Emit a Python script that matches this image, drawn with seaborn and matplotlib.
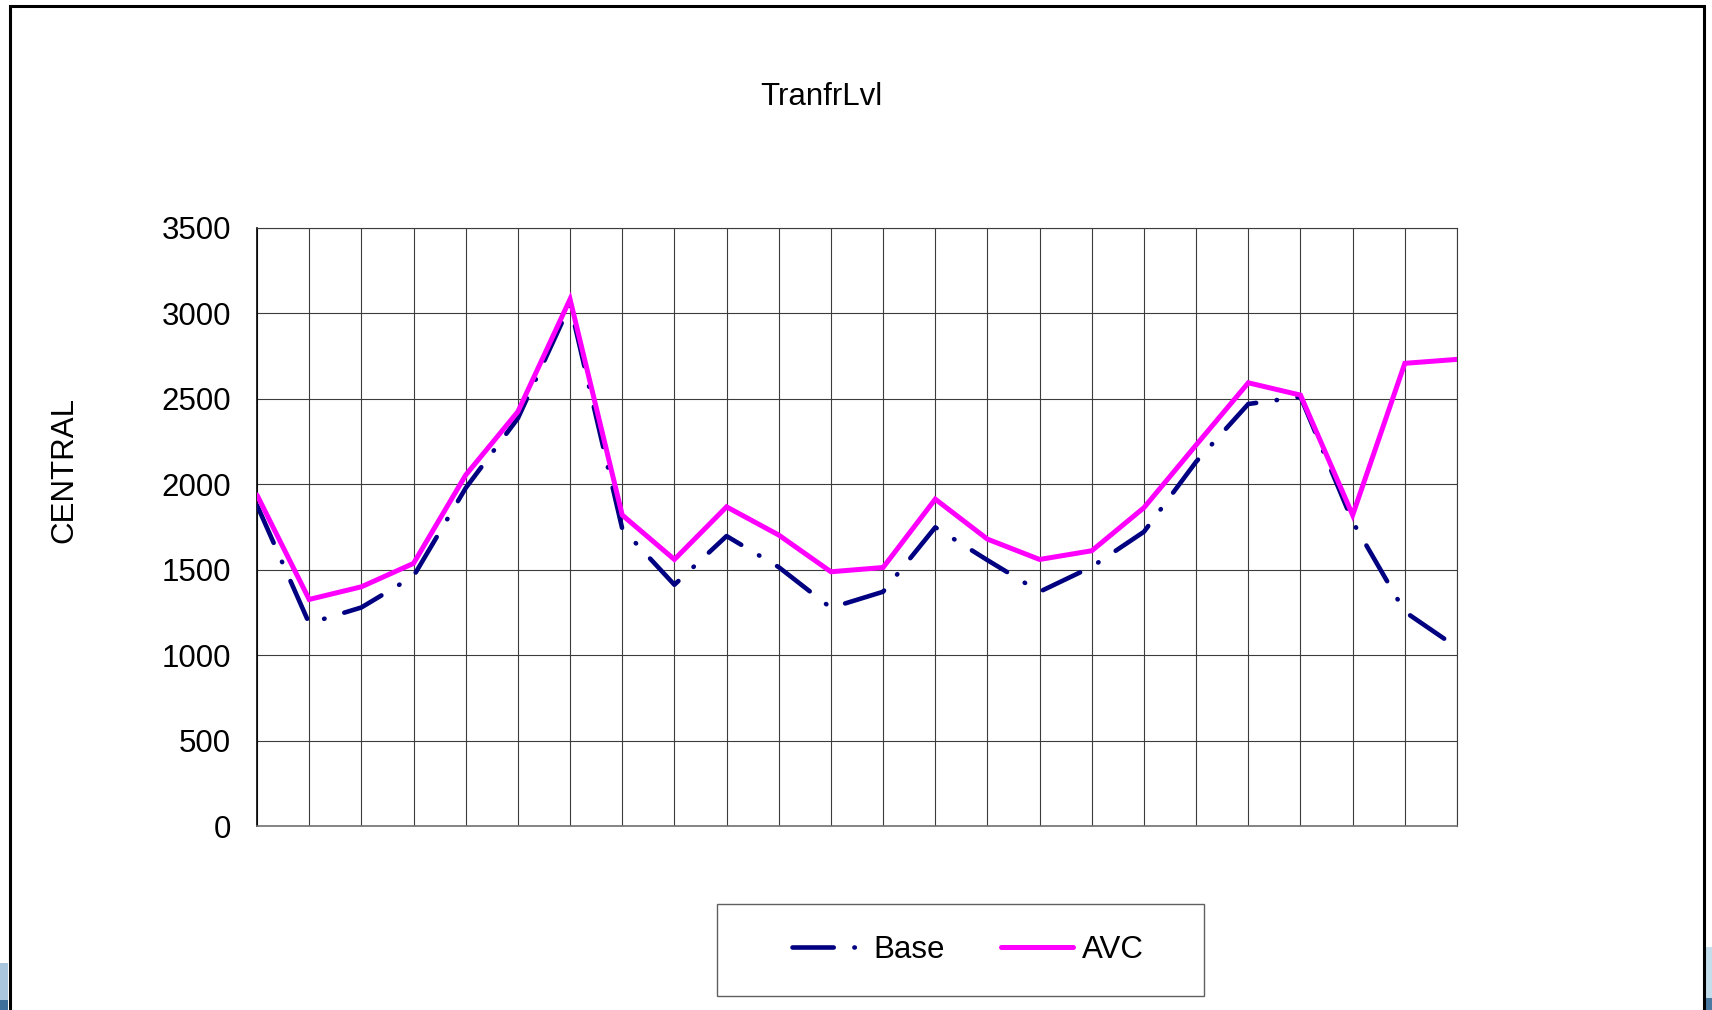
import numpy as np
import pandas as pd
import matplotlib
matplotlib.use("Agg")
import matplotlib.pyplot as plt
from matplotlib.patches import Rectangle
from matplotlib.lines import Line2D
import seaborn as sns

# ---- data ----
periods = list(range(24))
base_values = [1878, 1186, 1279, 1462, 1978, 2386, 3050, 1741, 1412, 1697, 1515, 1277,
               1371, 1748, 1556, 1371, 1517, 1722, 2132, 2470, 2512, 1781, 1254, 1045]
avc_values = [1937, 1326, 1400, 1537, 2054, 2425, 3083, 1820, 1560, 1868, 1703, 1488,
              1513, 1913, 1679, 1560, 1611, 1863, 2230, 2594, 2522, 1820, 2708, 2731]
series_names = ["Base", "AVC"]
y_ticks = [0, 500, 1000, 1500, 2000, 2500, 3000, 3500]
title_text = "TranfrLvl"
y_label = "CENTRAL"

df = pd.DataFrame({"period": periods, "Base": base_values, "AVC": avc_values})

sns.set_style("white")
plt.rcParams["font.family"] = ["Liberation Sans", "DejaVu Sans"]
plt.rcParams["text.color"] = "black"
plt.rcParams["ytick.labelcolor"] = "black"

W, H = 1712, 1010
fig = plt.figure(figsize=(W / 100, H / 100), dpi=100)
fig.patch.set_facecolor("white")

def fx(px):
    return px / W

def fy(py):
    return 1 - py / H

ax = fig.add_axes([fx(257), fy(826), fx(1457) - fx(257), fy(228) - fy(826)])
ax.set_facecolor("white")

navy = "#000080"
magenta = "#FF00FF"
grid_c = "#3c3c3c"
base_dash = (0, (9, 4.5, 0.1, 4.5))
FS = 22.5

sns.lineplot(data=df, x="period", y="Base", ax=ax, color=navy, linewidth=3.3,
             linestyle=base_dash, dash_capstyle="round", zorder=3)
sns.lineplot(data=df, x="period", y="AVC", ax=ax, color=magenta, linewidth=3.6,
             solid_capstyle="round", solid_joinstyle="miter", zorder=4)

ax.set_xlim(0, 23)
ax.set_ylim(0, 3500)
ax.set_xticks(periods)
ax.set_xticklabels([])
ax.set_yticks(y_ticks)
ax.set_yticklabels([str(v) for v in y_ticks], fontsize=FS, color="black")
ax.tick_params(axis="y", direction="out", length=6.5, width=1, color="#808080", pad=12)
ax.tick_params(axis="x", length=0)
ax.grid(True, axis="both", color=grid_c, linewidth=0.8)
ax.set_axisbelow(True)
ax.set_xlabel("")
ax.set_ylabel("")
for side in ["top", "right"]:
    ax.spines[side].set_color(grid_c)
    ax.spines[side].set_linewidth(0.8)
ax.spines["bottom"].set_color("#707070")
ax.spines["bottom"].set_linewidth(1.2)
ax.spines["left"].set_color("black")
ax.spines["left"].set_linewidth(1.2)

# title and axis label
fig.text(fx(821), fy(97), title_text, ha="center", va="center", fontsize=FS, color="black")
fig.text(fx(64), fy(470), y_label, ha="center", va="center", rotation=90, fontsize=FS,
         color="black")

# legend box with its entries
fig.patches.append(Rectangle((fx(717), fy(996)), fx(1204) - fx(717), fy(904) - fy(996),
                             transform=fig.transFigure, facecolor="white",
                             edgecolor="#606060", linewidth=1.0, zorder=1))
handles = [
    Line2D([], [], color=navy, linewidth=3.3, linestyle=base_dash, dash_capstyle="round"),
    Line2D([], [], color=magenta, linewidth=3.6, solid_capstyle="round"),
]
leg = fig.legend(handles, series_names, loc="center", bbox_to_anchor=(fx(968), fy(950)),
                 ncol=2, frameon=False, fontsize=FS, handlelength=2.3,
                 handletextpad=0.3, columnspacing=1.8)
for t in leg.get_texts():
    t.set_color("black")
leg.set_zorder(5)

# outer chart-area frame
fig.patches.append(Rectangle((fx(10), fy(1030)), fx(1704) - fx(10), fy(6) - fy(1030),
                             transform=fig.transFigure, facecolor="none",
                             edgecolor="black", linewidth=2.2, zorder=6))

# slide backdrop peeking out at the lower corners
fig.patches.append(Rectangle((0, 0), fx(8), fy(963), transform=fig.transFigure,
                             facecolor="#a9c6de", edgecolor="none", zorder=0))
fig.patches.append(Rectangle((0, 0), fx(8), fy(1000), transform=fig.transFigure,
                             facecolor="#3d6f9a", edgecolor="none", zorder=0))
fig.patches.append(Rectangle((fx(1706), 0), fx(6), fy(947), transform=fig.transFigure,
                             facecolor="#c3deec", edgecolor="none", zorder=0))
fig.patches.append(Rectangle((fx(1706), 0), fx(6), fy(998), transform=fig.transFigure,
                             facecolor="#4a7aa2", edgecolor="none", zorder=0))

fig.savefig("out.png", dpi=100, facecolor="white")
